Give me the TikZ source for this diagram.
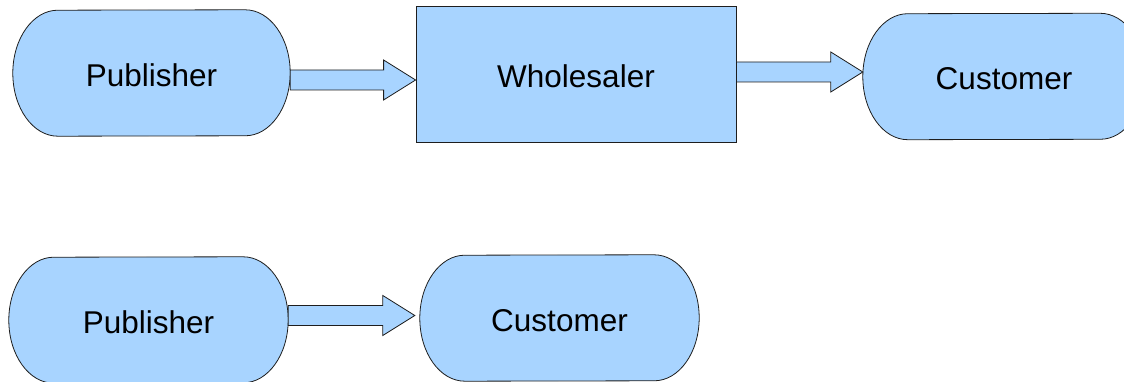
\documentclass[tikz,border=0pt]{standalone}
\usepackage{fontspec}
\setmainfont{Liberation Sans}
\usetikzlibrary{calc,backgrounds}
\definecolor{boxblue}{RGB}{168,212,255}
\definecolor{edgegray}{RGB}{30,30,30}
\tikzset{
  outline/.style={draw=edgegray, line width=0.8pt, fill=boxblue, line join=miter},
  txt/.style={font=\fontsize{31.5}{36}\selectfont, text height=27pt, text depth=0pt},
  term/.style={txt, inner sep=0pt},
  rectbox/.style={outline, txt, inner sep=0pt},
  fatarrow/.style={outline, to path={
    ($(\tikztostart)+(0pt,10pt)$) -- ($(\tikztotarget)+(-32pt,10pt)$)
    -- ($(\tikztotarget)+(-32pt,20pt)$) -- (\tikztotarget)
    -- ($(\tikztotarget)+(-32pt,-20pt)$) -- ($(\tikztotarget)+(-32pt,-10pt)$)
    -- ($(\tikztostart)+(0pt,-10pt)$) -- cycle}}
}
\newcommand\termout[3]{%
  \path[outline] ($(#1.north east)+(-#2pt,0pt)$)
    arc[start angle=90,end angle=-90,x radius=#2pt,y radius=#3pt]
    -- ($(#1.south west)+(#2pt,0pt)$)
    arc[start angle=270,end angle=90,x radius=#2pt,y radius=#3pt]
    -- cycle;}
\begin{document}
\begin{tikzpicture}[x=1pt,y=1pt]
\useasboundingbox (0,0) rectangle (1124,382);
% top row
\node[term, minimum width=277pt, minimum height=126pt] (pub1) at (151.5,309) {Publisher};
\node[rectbox, minimum width=320pt, minimum height=136pt] (whole) at (576,308) {Wholesaler};
\node[term, minimum width=282pt, minimum height=126pt] (cust1) at (1004,305.5) {Customer};
% bottom row
\node[term, minimum width=279pt, minimum height=126pt] (pub2) at (148.5,62) {Publisher};
\node[term, minimum width=279pt, minimum height=126pt] (cust2) at (559.5,64) {Customer};
\begin{scope}[on background layer]
  \termout{pub1}{45}{63}
  \termout{cust1}{45}{63}
  \termout{pub2}{45}{63}
  \termout{cust2}{45}{63}
\end{scope}
% arrows
\coordinate (a1s) at ([yshift=-7pt]pub1.east);
\coordinate (a1e) at ([yshift=-6pt]whole.west);
\coordinate (a2s) at ([yshift=2pt]whole.east);
\coordinate (a2e) at ([yshift=4.5pt]cust1.west);
\coordinate (a3s) at ([yshift=4.5pt]pub2.east);
\coordinate (a3e) at ([xshift=-5pt,yshift=2.5pt]cust2.west);
\draw[fatarrow] (a1s) to (a1e);
\draw[fatarrow] (a2s) to (a2e);
\draw[fatarrow] (a3s) to (a3e);
\end{tikzpicture}
\end{document}
